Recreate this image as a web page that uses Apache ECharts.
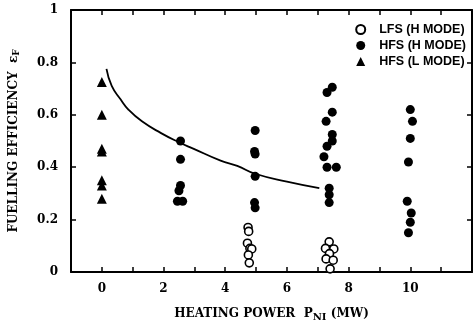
<!DOCTYPE html>
<html>
<head>
<meta charset="utf-8">
<script src="https://cdn.jsdelivr.net/npm/echarts@6/dist/echarts.min.js"></script>
<style>
  html, body { margin: 0; padding: 0; background: #fff; }
  #chart { width: 476px; height: 331px; }
</style>
</head>
<body>
<div id="chart"></div>
<script>
// LFS (H mode) - open circles
const lfsH = [
  [4.74, 0.17], [4.76, 0.155], [4.72, 0.11], [4.8, 0.09], [4.86, 0.088],
  [4.75, 0.065], [4.78, 0.035],
  [7.37, 0.115], [7.25, 0.09], [7.52, 0.088], [7.38, 0.07], [7.27, 0.05],
  [7.5, 0.045], [7.4, 0.012]
];
// HFS (H mode) - filled circles
const hfsH = [
  [2.55, 0.50], [2.55, 0.43], [2.55, 0.33], [2.5, 0.31], [2.45, 0.27], [2.62, 0.27],
  [4.97, 0.54], [4.95, 0.46], [4.97, 0.45], [4.97, 0.365], [4.95, 0.265], [4.97, 0.245],
  [7.47, 0.705], [7.3, 0.685], [7.47, 0.61], [7.27, 0.575], [7.47, 0.525],
  [7.47, 0.50], [7.3, 0.48], [7.2, 0.44], [7.3, 0.40], [7.6, 0.40],
  [7.37, 0.32], [7.37, 0.295], [7.37, 0.265],
  [10.0, 0.62], [10.07, 0.575], [10.0, 0.51], [9.94, 0.42],
  [9.9, 0.27], [10.03, 0.225], [10.0, 0.19], [9.94, 0.15]
];
// HFS (L mode) - triangles
const hfsL = [
  [0, 0.725], [0, 0.60], [0, 0.47], [0, 0.46], [0, 0.35], [0, 0.33], [0, 0.28]
];
// fitted curve
const fitCurve = [
  [0.15, 0.775], [0.32, 0.71], [0.6, 0.66], [0.86, 0.62], [1.3, 0.575],
  [1.92, 0.53], [2.5, 0.495], [2.98, 0.47], [3.85, 0.425], [4.39, 0.405],
  [4.97, 0.375], [6.0, 0.345], [7.05, 0.32]
];
const xTickLabels = [0, 2, 4, 6, 8, 10];

const serif = 'DejaVu Serif';
const chart = echarts.init(document.getElementById('chart'));

function axisBase() {
  return {
    axisLine: { show: true, onZero: false, lineStyle: { color: '#000', width: 2 } },
    axisTick: { show: true, inside: true, length: 5, lineStyle: { color: '#000', width: 1.5 } },
    splitLine: { show: false }
  };
}

const option = {
  animation: false,
  grid: { left: 70, right: 4, top: 10, bottom: 59 },
  legend: {
    orient: 'vertical',
    right: 5,
    top: 18,
    itemWidth: 9,
    itemHeight: 9,
    itemGap: 3,
    textStyle: {
      fontFamily: 'Liberation Sans', fontWeight: 'bold', fontSize: 12.5, color: '#000',
      padding: [0, 0, 0, 9]
    },
    data: [
      { name: 'LFS (H MODE)', icon: 'circle', itemStyle: { color: '#fff', borderColor: '#000', borderWidth: 2 } },
      { name: 'HFS (H MODE)', icon: 'circle' },
      { name: 'HFS (L MODE)', icon: 'triangle' }
    ]
  },
  xAxis: [
    Object.assign(axisBase(), {
      type: 'value', min: -1, max: 12, interval: 1, position: 'bottom',
      name: '{b|HEATING POWER  P}{s|NI}{b| (MW)}',
      nameLocation: 'middle', nameGap: 34,
      nameTextStyle: {
        rich: {
          b: { fontFamily: serif, fontWeight: 'bold', fontSize: 12, color: '#000' },
          s: { fontFamily: serif, fontWeight: 'bold', fontSize: 10, color: '#000', verticalAlign: 'bottom', padding: [6, 0, 0, 0] }
        }
      },
      axisLabel: {
        margin: 11, fontFamily: serif, fontWeight: 'bold', fontSize: 12, color: '#000',
        formatter: v => xTickLabels.includes(v) ? String(v) : ''
      }
    }),
    Object.assign(axisBase(), {
      type: 'value', min: -1, max: 12, interval: 1, position: 'top',
      axisLabel: { show: false }
    })
  ],
  yAxis: [
    Object.assign(axisBase(), {
      type: 'value', min: 0, max: 1, interval: 0.2, position: 'left',
      name: '{b|FUELLING EFFICIENCY  ε}{s|F}',
      nameLocation: 'middle', nameGap: 50, nameRotate: 90,
      nameTextStyle: {
        rich: {
          b: { fontFamily: serif, fontWeight: 'bold', fontSize: 12, color: '#000' },
          s: { fontFamily: serif, fontWeight: 'bold', fontSize: 9, color: '#000', padding: [5, 0, 0, 0] }
        }
      },
      axisLabel: {
        margin: 13, fontFamily: serif, fontWeight: 'bold', fontSize: 12, color: '#000',
        formatter: v => v === 0 || v === 1 ? String(v) : v.toFixed(1)
      }
    }),
    Object.assign(axisBase(), {
      type: 'value', min: 0, max: 1, interval: 0.2, position: 'right',
      axisLabel: { show: false }
    })
  ],
  series: [
    {
      name: 'fit', type: 'line', data: fitCurve, smooth: true, showSymbol: false,
      lineStyle: { color: '#000', width: 1.8 }, silent: true, z: 1
    },
    {
      name: 'LFS (H MODE)', type: 'scatter', data: lfsH, symbol: 'circle', symbolSize: 8,
      itemStyle: { color: '#fff', borderColor: '#000', borderWidth: 1.6, opacity: 1 }, z: 3
    },
    {
      name: 'HFS (H MODE)', type: 'scatter', data: hfsH, symbol: 'circle', symbolSize: 9,
      itemStyle: { color: '#000', opacity: 1 }, z: 2
    },
    {
      name: 'HFS (L MODE)', type: 'scatter', data: hfsL, symbol: 'triangle', symbolSize: 10,
      itemStyle: { color: '#000', opacity: 1 }, z: 2
    }
  ]
};

chart.setOption(option);
</script>
</body>
</html>
